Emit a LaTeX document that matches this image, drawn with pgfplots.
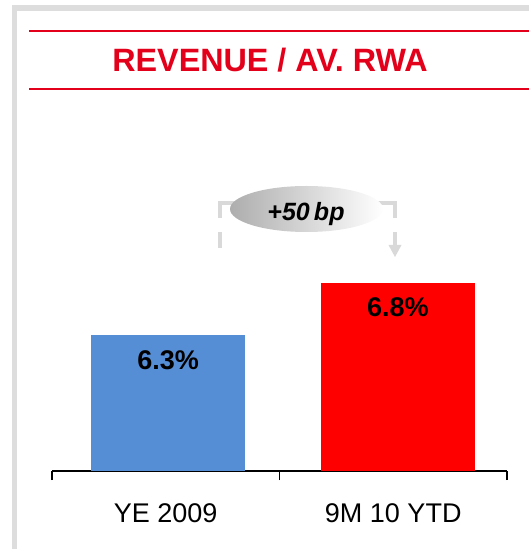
\documentclass[border=0pt]{standalone}
\usepackage{fontspec}
\setmainfont{Liberation Sans}
\usepackage{pgfplots}
\pgfplotsset{compat=1.18}
\definecolor{titlered}{RGB}{226,0,26}
\definecolor{barblue}{RGB}{85,142,213}
\definecolor{barred}{RGB}{255,0,0}
\definecolor{framegray}{RGB}{221,221,221}
\definecolor{brk}{RGB}{217,217,217}
\begin{document}
\begin{tikzpicture}[x=1pt,y=1pt]
\useasboundingbox (0,0) rectangle (529,549);
\fill[framegray] (12,0) rectangle (17,544);
\fill[framegray] (12,538) rectangle (529,544);
\draw[titlered, line width=2pt] (29,518) -- (529,518);
\draw[titlered, line width=2pt] (29,460) -- (529,460);
\node[anchor=base, text=titlered, font=\fontsize{32.3}{38}\selectfont\bfseries, inner sep=0pt] at (270,477) {REVENUE / AV. RWA};
\begin{axis}[
  at={(52pt,78pt)}, anchor=south west, scale only axis, width=455pt, height=351pt,
  xmin=-0.5, xmax=1.5, ymin=5, ymax=8.36,
  axis x line=bottom, axis y line=none,
  x axis line style={-, line width=1.5pt, black},
  ybar, bar width=154pt, bar shift=0pt,
  xtick={0,1}, xticklabels={YE 2009, 9M 10 YTD}, major tick length=0pt,
  xticklabel style={font=\fontsize{27}{32}\selectfont, anchor=base, yshift=-52pt},
  extra x ticks={-0.5,0.5,1.5}, extra x tick labels={},
  extra x tick style={major tick length=9pt, tick align=outside, tick style={line width=1.5pt, black}},
  nodes near coords={\pgfmathprintnumber[assume math mode=true,fixed,fixed zerofill,precision=1]{\pgfplotspointmeta}\%},
  every node near coord/.append style={anchor=base, yshift=-34pt, font=\fontsize{27}{32}\selectfont\bfseries, text=black},
  clip=false,
]
\addplot[fill=barblue, draw=none] coordinates {(0.01,6.3)};
\addplot[fill=barred, draw=none] coordinates {(1.02,6.8)};
\end{axis}
% annotation bracket
\draw[brk, line width=4pt, line cap=butt, line join=miter] (220,331) -- (220,346) -- (300,346);
\draw[brk, line width=4pt, line cap=butt, line join=miter] (310,346) -- (395,346) -- (395,331);
\draw[brk, line width=4pt, line cap=butt] (220,317) -- (220,301);
\draw[brk, line width=4pt, line cap=butt] (395,317) -- (395,304);
\fill[brk] (388.5,304) -- (401.5,304) -- (395,292) -- cycle;
\shade[left color=black!32, middle color=black!4, right color=white] (306.5,340) ellipse (76.5 and 23);
\node[anchor=base, font=\fontsize{25}{29}\selectfont\bfseries\itshape, inner sep=0pt] at (306,328) {+50\,bp};
\end{tikzpicture}
\end{document}
